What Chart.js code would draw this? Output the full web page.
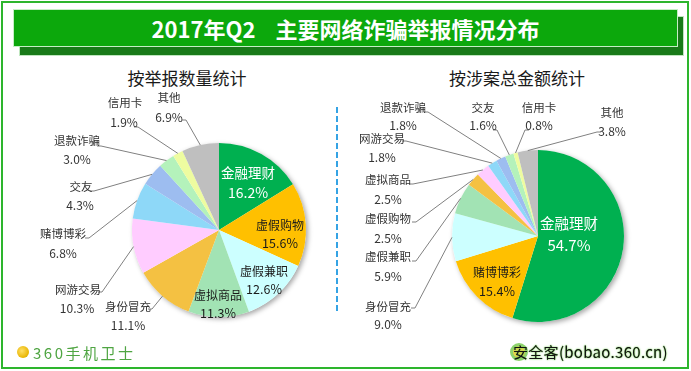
<!DOCTYPE html>
<html>
<head>
<meta charset="utf-8">
<script src="https://cdn.jsdelivr.net/npm/chart.js@4/dist/chart.umd.min.js"></script>
<style>
  html, body { margin: 0; padding: 0; background: #fff; }
  #wrap { position: relative; width: 691px; height: 371px; overflow: hidden; background: #fff;
          font-family: "Noto Sans CJK SC", "Noto Sans", sans-serif; }
  .abs { position: absolute; }
  #frame { left: 1px; top: 1px; width: 688px; height: 368px; border: 2px solid #2db52d; box-sizing: border-box; }
  #bannerShadow { left: 19px; top: 16px; width: 665px; height: 40px; background: #197a19; border: 1px solid #bfe6bf; box-sizing: border-box; }
  #banner { left: 13px; top: 9px; width: 665px; height: 38px; background: #0ca80c; border: 1px solid #c6eec6; box-sizing: border-box;
            color: #fff; font-weight: bold; font-size: 22px; line-height: 36px; text-align: center; white-space: pre; }
  #banner .gap { display: inline-block; width: 20px; }
  .sub { font-size: 17px; color: #1a1a1a; line-height: 20px; white-space: nowrap; transform: translateX(-50%); }
  #sep { left: 336px; top: 107px; width: 2px; height: 206px;
         background: repeating-linear-gradient(to bottom, #35a3e4 0 6px, transparent 6px 9px); }
  canvas { position: absolute; left: 0; top: 0; }
  #logoL { left: 17px; top: 346px; width: 12px; height: 12px; border-radius: 50%;
           background: radial-gradient(circle at 40% 40%, #ffe066, #e8b400 70%, #4c9a2a 100%); }
  #logoLtxt { left: 33px; top: 343px; font-size: 15px; line-height: 20px; color: #4fa542; letter-spacing: 2.5px; white-space: nowrap; }
  #logoR { left: 510px; top: 343px; width: 18px; height: 18px; border-radius: 50%; border: 3px solid #8fd36f; box-sizing: border-box; background: #f2d34a; }
  #logoRtxt { left: 513px; top: 342px; font-size: 15px; line-height: 20px; color: #111; white-space: nowrap;
              text-shadow: 0 0 2px #7cd05c, 0 0 1px #7cd05c; letter-spacing: 0.3px; }
</style>
</head>
<body>
<div id="wrap">
  <div id="frame" class="abs"></div>
  <div id="bannerShadow" class="abs"></div>
  <div id="banner" class="abs">2017年Q2<span class="gap"> </span>主要网络诈骗举报情况分布</div>
  <div class="abs sub" style="left:187px; top:68px;">按举报数量统计</div>
  <div class="abs sub" style="left:517px; top:68px;">按涉案总金额统计</div>
  <div id="sep" class="abs"></div>
  <canvas id="cLeft" width="691" height="371"></canvas>
  <canvas id="cRight" width="691" height="371"></canvas>
  <div id="logoL" class="abs"></div>
  <div id="logoLtxt" class="abs">360手机卫士</div>
  <div id="logoR" class="abs"></div>
  <div id="logoRtxt" class="abs">安全客(bobao.360.cn)</div>
</div>
<script>
// ---- data ----
const leftCategories = ['金融理财','虚假购物','虚假兼职','虚拟商品','身份冒充','网游交易','赌博博彩','交友','退款诈骗','信用卡','其他'];
const leftValues = [16.2, 15.6, 12.6, 11.3, 11.1, 10.3, 6.8, 4.3, 3.0, 1.9, 6.9];
const rightCategories = ['金融理财','赌博博彩','身份冒充','虚假兼职','虚假购物','虚拟商品','网游交易','退款诈骗','交友','信用卡','其他'];
const rightValues = [54.7, 15.4, 9.0, 5.9, 2.5, 2.5, 1.8, 1.8, 1.6, 0.8, 3.8];

// ---- styles ----
const sliceColors = ['#00b050','#ffc000','#ccffff','#a2e3b4','#f4c142','#ffccff','#8ed8f8','#9dbdf0','#b4f2bb','#eefca0','#bfbfbf'];

// label placement: name pos, pct pos, leader start (null = inside label)
const leftLayout = [
  {n:[248,173], p:[248,193], c:'#ffffff', f:13.5},
  {n:[280,225], p:[280,243], c:'#1a1a1a', f:12},
  {n:[264,271], p:[264,289], c:'#1a1a1a', f:12},
  {n:[218,295], p:[218,313], c:'#1a1a1a', f:12},
  {n:[128,307], p:[128,325], l:[151,309]},
  {n:[78,290],  p:[77,308],  l:[101,292]},
  {n:[63,234],  p:[63,253],  l:[88,238]},
  {n:[81,187],  p:[80,205],  l:[93,191]},
  {n:[77,141],  p:[77,159],  l:[100,146]},
  {n:[125,103], p:[124,122], l:[137,127]},
  {n:[169,98],  p:[169,117], l:[185,120]}
];
const rightLayout = [
  {n:[569,223], p:[569,245], c:'#ffffff', f:14.5},
  {n:[497,272], p:[497,291], c:'#1a1a1a', f:12},
  {n:[388,307], p:[388,324], l:[414,308]},
  {n:[388,257], p:[388,276], l:[415,261]},
  {n:[388,219], p:[388,238], l:[415,222]},
  {n:[388,180], p:[388,199], l:[412,184]},
  {n:[382,139], p:[382,157], l:[405,141]},
  {n:[403,108], p:[403,125], l:[427,112]},
  {n:[483,108], p:[483,125], l:[496,130]},
  {n:[539,108], p:[539,125], l:[526,130]},
  {n:[612,113], p:[612,131], l:[598,132]}
];

const FONT = '"Noto Sans CJK SC", "Noto Sans", sans-serif';

function makePlugins(layout) {
  return [{
    id: 'shadowDisc',
    beforeDatasetsDraw(chart) {
      const arc = chart.getDatasetMeta(0).data[0];
      if (!arc) return;
      const {x, y, outerRadius} = arc.getProps(['x','y','outerRadius'], true);
      const ctx = chart.ctx;
      ctx.save();
      ctx.shadowColor = 'rgba(0,0,0,0.35)';
      ctx.shadowBlur = 5;
      ctx.shadowOffsetX = 2;
      ctx.shadowOffsetY = 2;
      ctx.fillStyle = '#ffffff';
      ctx.beginPath();
      ctx.arc(x, y, outerRadius, 0, Math.PI * 2);
      ctx.fill();
      ctx.restore();
    }
  }, {
    id: 'sliceLabels',
    afterDatasetsDraw(chart) {
      const ctx = chart.ctx;
      const meta = chart.getDatasetMeta(0);
      const labels = chart.data.labels;
      const values = chart.data.datasets[0].data;
      ctx.save();
      meta.data.forEach((arc, i) => {
        const L = layout[i];
        const {x, y, startAngle, endAngle, outerRadius} = arc.getProps(['x','y','startAngle','endAngle','outerRadius'], true);
        const mid = (startAngle + endAngle) / 2;
        if (L.l) {
          const ex = x + Math.cos(mid) * outerRadius;
          const ey = y + Math.sin(mid) * outerRadius;
          const dir = ex > L.l[0] ? 1 : -1;
          ctx.strokeStyle = '#808080';
          ctx.lineWidth = 1;
          ctx.beginPath();
          ctx.moveTo(L.l[0] - dir * 3, L.l[1]);
          ctx.lineTo(L.l[0] + dir * 1, L.l[1]);
          ctx.lineTo(ex, ey);
          ctx.stroke();
        }
        const size = L.f || 11.5;
        ctx.fillStyle = L.c || '#333333';
        ctx.textAlign = 'center';
        ctx.textBaseline = 'middle';
        ctx.font = size + 'px ' + FONT;
        ctx.fillText(labels[i], L.n[0], L.n[1]);
        ctx.font = (size + 0.5) + 'px ' + FONT;
        ctx.fillText(values[i].toFixed(1) + '%', L.p[0], L.p[1]);
      });
      ctx.restore();
    }
  }];
}

function makePie(id, cats, vals, layout, radius, padding) {
  return new Chart(document.getElementById(id), {
    type: 'pie',
    data: {
      labels: cats,
      datasets: [{
        data: vals,
        backgroundColor: sliceColors,
        borderWidth: 0,
        hoverOffset: 0,
        offset: 0,
        radius: radius
      }]
    },
    options: {
      responsive: false,
      devicePixelRatio: 1,
      animation: false,
      events: [],
      layout: { padding: padding },
      plugins: { legend: { display: false }, tooltip: { enabled: false }, title: { display: false } }
    },
    plugins: makePlugins(layout)
  });
}

// left pie centred near (219,230), right pie near (538,236)
makePie('cLeft', leftCategories, leftValues, leftLayout, 87, {left: 0, right: 253, top: 89, bottom: 0});
makePie('cRight', rightCategories, rightValues, rightLayout, 86, {left: 385, right: 0, top: 101, bottom: 0});
</script>
</body>
</html>
